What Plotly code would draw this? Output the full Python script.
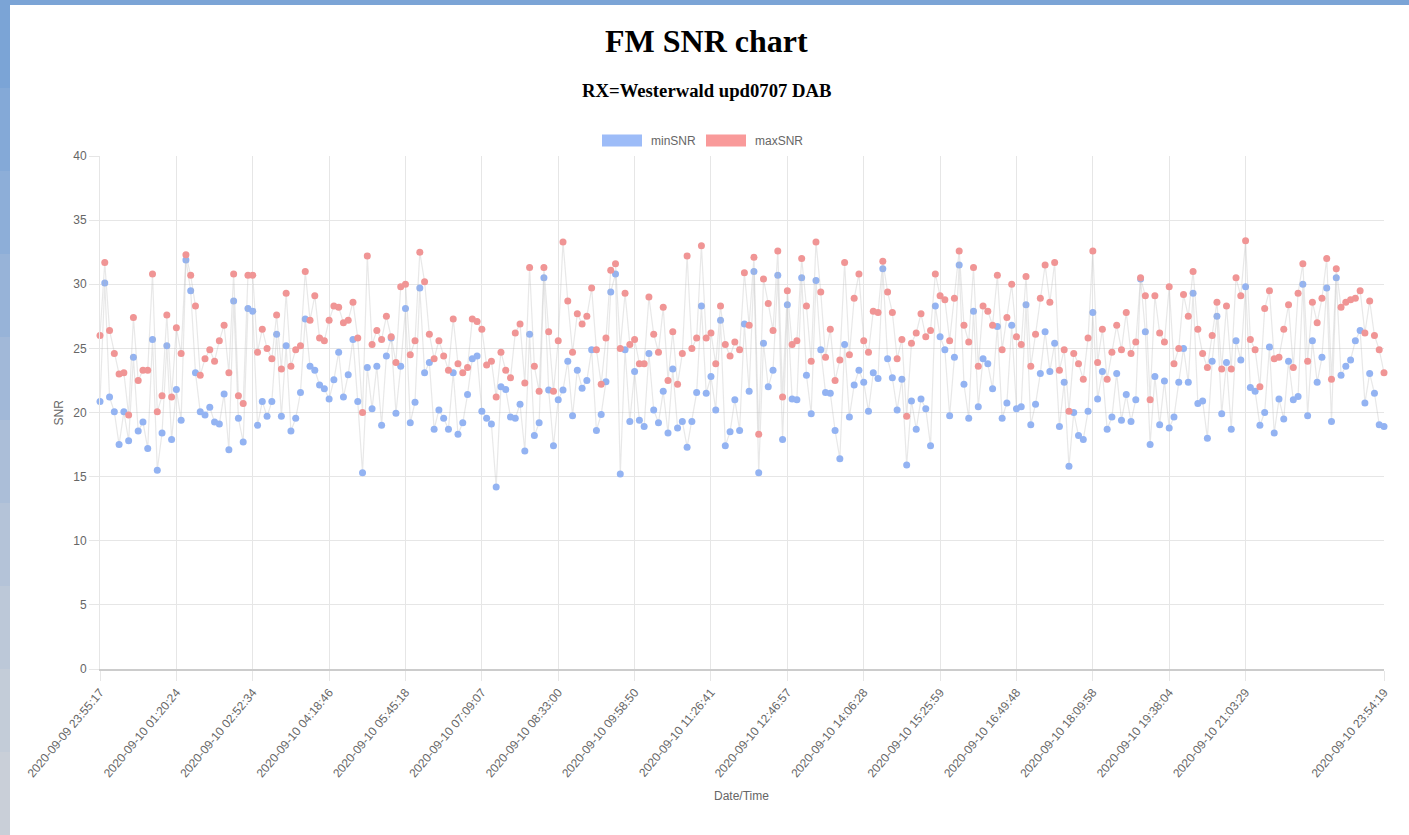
import numpy as np
import pandas as pd
import plotly.graph_objects as go

# ---------------- data ----------------
tick_index = [0, 16, 32, 48, 64, 80, 96, 112, 128, 144, 160, 176, 192, 208, 224, 240, 269]
tick_labels = [
    "2020-09-09 23:55:17", "2020-09-10 01:20:24", "2020-09-10 02:52:34", "2020-09-10 04:18:46",
    "2020-09-10 05:45:18", "2020-09-10 07:09:07", "2020-09-10 08:33:00", "2020-09-10 09:58:50",
    "2020-09-10 11:26:41", "2020-09-10 12:46:57", "2020-09-10 14:06:28", "2020-09-10 15:25:59",
    "2020-09-10 16:49:48", "2020-09-10 18:09:58", "2020-09-10 19:38:04", "2020-09-10 21:03:29",
    "2020-09-10 23:54:19",
]

min_snr = [
    20.85, 30.1, 21.2, 20.05, 17.5, 20.05, 17.8, 24.3, 18.55, 19.25,
    17.2, 25.7, 15.5, 18.4, 25.2, 17.9, 21.8, 19.4, 31.9, 29.5,
    23.1, 20.05, 19.8, 20.4, 19.25, 19.1, 21.45, 17.1, 28.7, 19.55,
    17.7, 28.1, 27.9, 19.0, 20.85, 19.7, 20.85, 26.1, 19.7, 25.2,
    18.55, 19.55, 21.55, 27.3, 23.6, 23.3, 22.15, 21.85, 21.05, 22.55,
    24.7, 21.2, 22.95, 25.7, 20.85, 15.3, 23.5, 20.3, 23.6, 19.0,
    24.4, 25.8, 19.95, 23.6, 28.1, 19.2, 20.8, 29.7, 23.1, 23.9,
    18.7, 20.2, 19.55, 18.7, 23.1, 18.3, 19.2, 21.4, 24.2, 24.4,
    20.1, 19.55, 19.1, 14.2, 22.0, 21.8, 19.65, 19.55, 20.65, 17.0,
    26.1, 18.2, 19.2, 30.5, 21.75, 17.4, 21.0, 21.75, 24.0, 19.75,
    23.3, 21.9, 22.5, 24.9, 18.6, 19.85, 22.4, 29.4, 30.8, 15.2,
    24.9, 19.3, 23.2, 19.4, 18.9, 24.6, 20.2, 19.2, 21.65, 18.4,
    23.4, 18.8, 19.3, 17.3, 19.3, 21.55, 28.3, 21.5, 22.8, 20.2,
    27.2, 17.4, 18.5, 21.0, 18.6, 26.9, 21.65, 31.0, 15.3, 25.4,
    22.0, 23.3, 30.7, 17.9, 28.4, 21.05, 21.0, 30.5, 22.9, 19.9,
    30.3, 24.9, 21.55, 21.5, 18.6, 16.4, 25.3, 19.65, 22.15, 23.3,
    22.35, 20.1, 23.1, 22.65, 31.2, 24.2, 22.7, 20.2, 22.6, 15.9,
    20.9, 18.7, 21.05, 20.3, 17.4, 28.3, 25.9, 24.9, 19.75, 24.3,
    31.5, 22.2, 19.55, 27.9, 20.45, 24.2, 23.8, 21.85, 26.7, 19.55,
    20.75, 26.8, 20.3, 20.45, 28.4, 19.05, 20.65, 23.05, 26.3, 23.2,
    25.4, 18.9, 22.35, 15.8, 20.0, 18.2, 17.9, 20.1, 27.8, 21.05,
    23.2, 18.7, 19.65, 23.05, 19.4, 21.4, 19.3, 21.0, 30.4, 26.3,
    17.5, 22.8, 19.05, 22.45, 18.8, 19.65, 22.35, 25.0, 22.35, 29.3,
    20.7, 20.9, 18.0, 24.0, 27.5, 19.9, 23.9, 18.7, 25.6, 24.1,
    29.8, 21.95, 21.65, 19.0, 20.0, 25.1, 18.4, 21.05, 19.5, 24.0,
    21.0, 21.25, 30.0, 19.75, 25.6, 22.35, 24.3, 29.7, 19.3, 30.5,
    22.9, 23.6, 24.1, 25.6, 26.4, 20.75, 23.05, 21.5, 19.05, 18.9,
]

max_snr = [
    26.0, 31.7, 26.4, 24.6, 23.0, 23.1, 19.8, 27.4, 22.5, 23.3,
    23.3, 30.8, 20.05, 21.3, 27.6, 21.2, 26.6, 24.6, 32.3, 30.7,
    28.3, 22.9, 24.2, 24.9, 24.0, 25.6, 26.8, 23.1, 30.8, 21.3,
    20.7, 30.7, 30.7, 24.7, 26.5, 25.0, 24.2, 27.6, 23.4, 29.3,
    23.6, 24.9, 25.2, 31.0, 27.2, 29.1, 25.8, 25.6, 27.2, 28.3,
    28.2, 27.0, 27.2, 28.6, 25.8, 20.0, 32.2, 25.3, 26.4, 25.7,
    27.5, 25.9, 23.9, 29.8, 30.0, 24.5, 25.6, 32.5, 30.2, 26.1,
    24.2, 25.6, 24.4, 23.3, 27.3, 23.8, 23.1, 23.5, 27.3, 27.1,
    26.5, 23.7, 24.0, 21.2, 24.7, 23.3, 22.7, 26.2, 26.9, 22.3,
    31.3, 23.6, 21.65, 31.3, 26.3, 21.65, 25.6, 33.3, 28.7, 24.7,
    27.7, 26.9, 27.5, 29.7, 24.9, 22.2, 25.8, 31.1, 31.6, 25.0,
    29.3, 25.3, 25.7, 23.8, 23.8, 29.0, 26.1, 24.7, 28.2, 22.5,
    26.3, 22.2, 24.6, 32.2, 25.0, 25.8, 33.0, 25.8, 26.2, 23.8,
    28.3, 25.3, 24.4, 25.5, 24.9, 30.9, 26.8, 32.1, 18.3, 30.4,
    28.5, 26.4, 32.6, 21.2, 29.5, 25.3, 25.6, 32.0, 28.3, 24.0,
    33.3, 29.4, 24.3, 26.5, 22.5, 24.1, 31.7, 24.5, 28.9, 30.8,
    25.6, 24.7, 27.9, 27.8, 31.8, 29.4, 27.8, 24.2, 25.7, 19.7,
    25.4, 26.2, 27.7, 25.9, 26.4, 30.8, 29.1, 28.8, 25.6, 28.9,
    32.6, 26.8, 25.5, 31.3, 23.6, 28.3, 27.9, 26.8, 30.7, 24.9,
    27.4, 30.0, 25.9, 25.3, 30.6, 23.6, 26.1, 28.9, 31.5, 28.6,
    31.7, 23.3, 24.9, 20.1, 24.6, 23.8, 22.6, 25.8, 32.6, 23.9,
    26.5, 22.6, 24.7, 26.8, 24.9, 27.8, 24.6, 25.5, 30.5, 29.1,
    21.0, 29.1, 26.2, 25.5, 29.8, 23.8, 25.0, 29.2, 27.5, 31.0,
    26.5, 24.6, 23.5, 26.0, 28.6, 23.4, 28.3, 23.4, 30.5, 29.1,
    33.4, 25.7, 24.9, 22.0, 28.1, 29.5, 24.2, 24.3, 26.5, 28.4,
    23.5, 29.3, 31.6, 24.0, 28.6, 27.0, 28.9, 32.0, 22.6, 31.2,
    28.2, 28.6, 28.8, 28.9, 29.5, 26.2, 28.7, 26.0, 24.9, 23.1,
]

# hidden category labels between the visible (auto-skipped) tick labels
n_points = len(min_snr)
anchor_sec = pd.to_datetime(pd.Series(tick_labels)).astype("int64") // 10**9
all_sec = np.interp(np.arange(n_points), tick_index, anchor_sec.values)
categories = pd.to_datetime(all_sec.round().astype("int64"), unit="s").strftime("%Y-%m-%d %H:%M:%S").tolist()
for i, lab in zip(tick_index, tick_labels):
    categories[i] = lab

# ---------------- styling ----------------
W, H = 1409, 835
L, R, T, B = 100, 25, 156, 166
PW, PH = W - L - R, H - T - B


def px_x(px):
    return (px - L) / PW


def px_y(py):
    return (H - B - py) / PH


BLUE_PT = "#93b3f2"
RED_PT = "#f09595"
BLUE_LEG = "#9dbcf8"
RED_LEG = "#f99a9a"
LINE = "rgba(185,185,185,0.32)"
GRID = "#e6e6e6"
TXT = "#666666"
SANS = "Liberation Sans, Arial, sans-serif"
SERIF = "Liberation Serif, Times New Roman, serif"

fig = go.Figure()
fig.add_trace(go.Scatter(
    x=categories, y=min_snr, name="minSNR", mode="lines+markers",
    line=dict(color=LINE, width=1.2),
    marker=dict(color=BLUE_PT, size=7, line=dict(width=0)),
    cliponaxis=False,
))
fig.add_trace(go.Scatter(
    x=categories, y=max_snr, name="maxSNR", mode="lines+markers",
    line=dict(color=LINE, width=1.2),
    marker=dict(color=RED_PT, size=7, line=dict(width=0)),
    cliponaxis=False,
))

shapes = []
# legend boxes
shapes.append(dict(type="rect", xref="paper", yref="paper",
                   x0=px_x(602), x1=px_x(642), y0=px_y(146.5), y1=px_y(134.5),
                   fillcolor=BLUE_LEG, line=dict(width=0)))
shapes.append(dict(type="rect", xref="paper", yref="paper",
                   x0=px_x(706), x1=px_x(746), y0=px_y(146.5), y1=px_y(134.5),
                   fillcolor=RED_LEG, line=dict(width=0)))
# page frame (blue window edge)
shapes.append(dict(type="rect", xref="paper", yref="paper",
                   x0=px_x(0), x1=px_x(W), y0=px_y(5), y1=px_y(0),
                   fillcolor="#7ba4d6", line=dict(width=0)))
edge_cols = ["#7ba4d6", "#84a9d7", "#8daed8", "#97b3d8", "#a1b8d8",
             "#abbed8", "#b4c3d8", "#bcc8d8", "#c3ccd8", "#c9cfd8"]
seg = (H - 5) / len(edge_cols)
for k, c in enumerate(edge_cols):
    shapes.append(dict(type="rect", xref="paper", yref="paper",
                       x0=px_x(0), x1=px_x(10), y0=px_y(5 + (k + 1) * seg), y1=px_y(5 + k * seg),
                       fillcolor=c, line=dict(width=0)))

annotations = [
    dict(text="<b>FM SNR chart</b>", x=px_x(706), y=px_y(41), xref="paper", yref="paper",
         showarrow=False, xanchor="center", yanchor="middle",
         font=dict(family=SERIF, size=32, color="#000000")),
    dict(text="<b>RX=Westerwald upd0707 DAB</b>", x=px_x(706), y=px_y(91), xref="paper", yref="paper",
         showarrow=False, xanchor="center", yanchor="middle",
         font=dict(family=SERIF, size=18.7, color="#000000")),
    dict(text="minSNR", x=px_x(649), y=px_y(140.5), xref="paper", yref="paper",
         showarrow=False, xanchor="left", yanchor="middle",
         font=dict(family=SANS, size=12, color=TXT)),
    dict(text="maxSNR", x=px_x(752.5), y=px_y(140.5), xref="paper", yref="paper",
         showarrow=False, xanchor="left", yanchor="middle",
         font=dict(family=SANS, size=12, color=TXT)),
    dict(text="Date/Time", x=px_x(741.5), y=px_y(796), xref="paper", yref="paper",
         showarrow=False, xanchor="center", yanchor="middle",
         font=dict(family=SANS, size=12, color=TXT)),
    dict(text="SNR", x=px_x(58), y=px_y(412.5), xref="paper", yref="paper",
         showarrow=False, xanchor="center", yanchor="middle", textangle=-90,
         font=dict(family=SANS, size=12, color=TXT)),
]

fig.update_layout(
    width=W, height=H,
    margin=dict(l=L, r=R, t=T, b=B, pad=0),
    paper_bgcolor="#ffffff", plot_bgcolor="#ffffff",
    showlegend=False,
    shapes=shapes,
    annotations=annotations,
    hovermode="closest",
    xaxis=dict(
        type="category",
        categoryorder="array", categoryarray=categories,
        range=[0, n_points - 1],
        tickmode="array", tickvals=tick_labels, ticktext=tick_labels,
        tickangle=-50,
        tickfont=dict(family=SANS, size=12, color=TXT),
        showgrid=True, gridcolor=GRID, gridwidth=1,
        ticks="outside", ticklen=10, tickcolor=GRID,
        showline=True, linecolor="#cccccc", linewidth=1.5,
        zeroline=False,
    ),
    yaxis=dict(
        range=[0, 40], dtick=5, tick0=0,
        tickfont=dict(family=SANS, size=12, color=TXT),
        showgrid=True, gridcolor=GRID, gridwidth=1,
        ticks="outside", ticklen=10, tickcolor=GRID,
        showline=True, linecolor=GRID, linewidth=1,
        zeroline=False,
    ),
)

fig.write_html(
    "out.html",
    config={"displayModeBar": False},
    post_script="document.body.style.margin='0';document.body.style.overflow='hidden';",
)
